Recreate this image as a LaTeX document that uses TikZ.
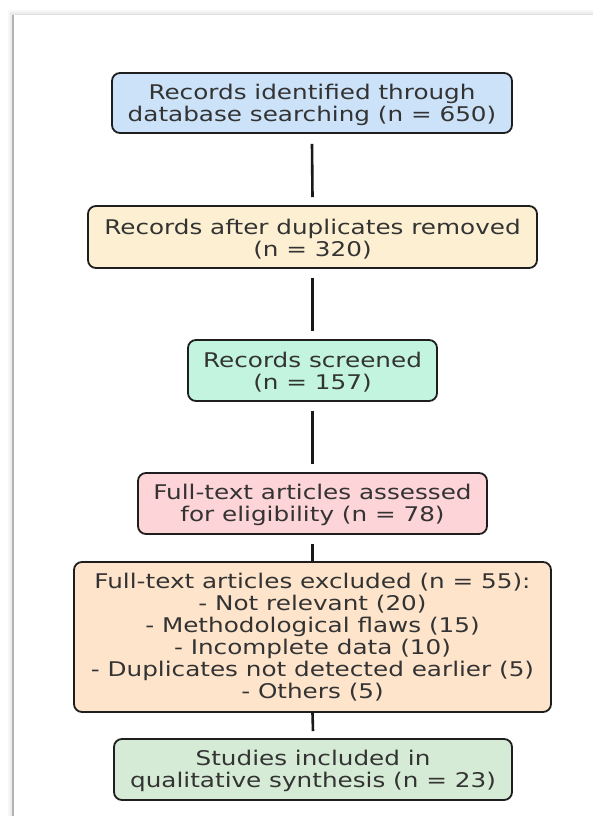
\documentclass[tikz,border=0pt]{standalone}
\usepackage{fontspec}
\setmainfont{DejaVu Sans}[FakeStretch=1.22]
\usetikzlibrary{calc}
\definecolor{txt}{HTML}{333333}
\definecolor{edge}{HTML}{1E1E1E}
\definecolor{cblue}{HTML}{CCE2F8}
\definecolor{cyellow}{HTML}{FDF0D2}
\definecolor{cmint}{HTML}{C2F4E0}
\definecolor{cpink}{HTML}{FDD4D7}
\definecolor{cpeach}{HTML}{FDE4CB}
\definecolor{cgreen}{HTML}{D6EBD6}
\newcommand{\tstrut}{\rule{0pt}{19bp}}
\tikzset{
  flowbox/.style={draw=edge, line width=1.8bp, rounded corners=8bp, align=center,
    text=txt, inner sep=0pt, font=\fontsize{20.3}{22}\selectfont},
  link/.style={draw=black!90, line width=2.6bp}
}
\begin{document}
\begin{tikzpicture}[x=1bp,y=-1bp]
\useasboundingbox (0,0) rectangle (593,816);
\fill[white] (0,0) rectangle (593,816);
% page shadow
\fill[black!3] (8,10) rectangle (593,816);
\fill[black!7] (10,12.5) rectangle (593,816);
\fill[black!12] (11.5,13.8) rectangle (593,816);
\fill[black!30] (12,15) rectangle (14,816);
\fill[white] (14,15) rectangle (593,816);
% boxes
\node[flowbox, fill=cblue, minimum width=400bp, minimum height=60bp] (b1) at (312,103)
  {\tstrut Records identified through\\database searching (n = 650)};
\node[flowbox, fill=cyellow, minimum width=449bp, minimum height=62bp] (b2) at (312.5,237)
  {\tstrut Records after duplicates removed\\(n = 320)};
\node[flowbox, fill=cmint, minimum width=249bp, minimum height=61bp] (b3) at (312.5,370.5)
  {\tstrut Records screened\\(n = 157)};
\node[flowbox, fill=cpink, minimum width=349bp, minimum height=61bp] (b4) at (312.5,503.5)
  {\tstrut Full-text articles assessed\\for eligibility (n = 78)};
\node[flowbox, fill=cpeach, minimum width=477bp, minimum height=150bp] (b5) at (312.5,637)
  {Full-text articles excluded (n = 55):\\- Not relevant (20)\\- Methodological flaws (15)\\- Incomplete data (10)\\- Duplicates not detected earlier (5)\\- Others (5)};
\node[flowbox, fill=cgreen, minimum width=398bp, minimum height=61bp] (b6) at (313,769.5)
  {\tstrut Studies included in\\qualitative synthesis (n = 23)};
% connectors
\draw[link] ($(b1.south)+(0,10)$) -- ($(b2.north)-(0,8)$);
\draw[link] ($(b2.south)+(0,9)$) -- ($(b3.north)-(0,8)$);
\draw[link] ($(b3.south)+(0,9)$) -- ($(b4.north)-(0,8)$);
\draw[link] ($(b4.south)+(0,9)$) -- (b5.north);
\draw[link] (b5.south) -- ($(b6.north)-(0,7)$);
\end{tikzpicture}
\end{document}
